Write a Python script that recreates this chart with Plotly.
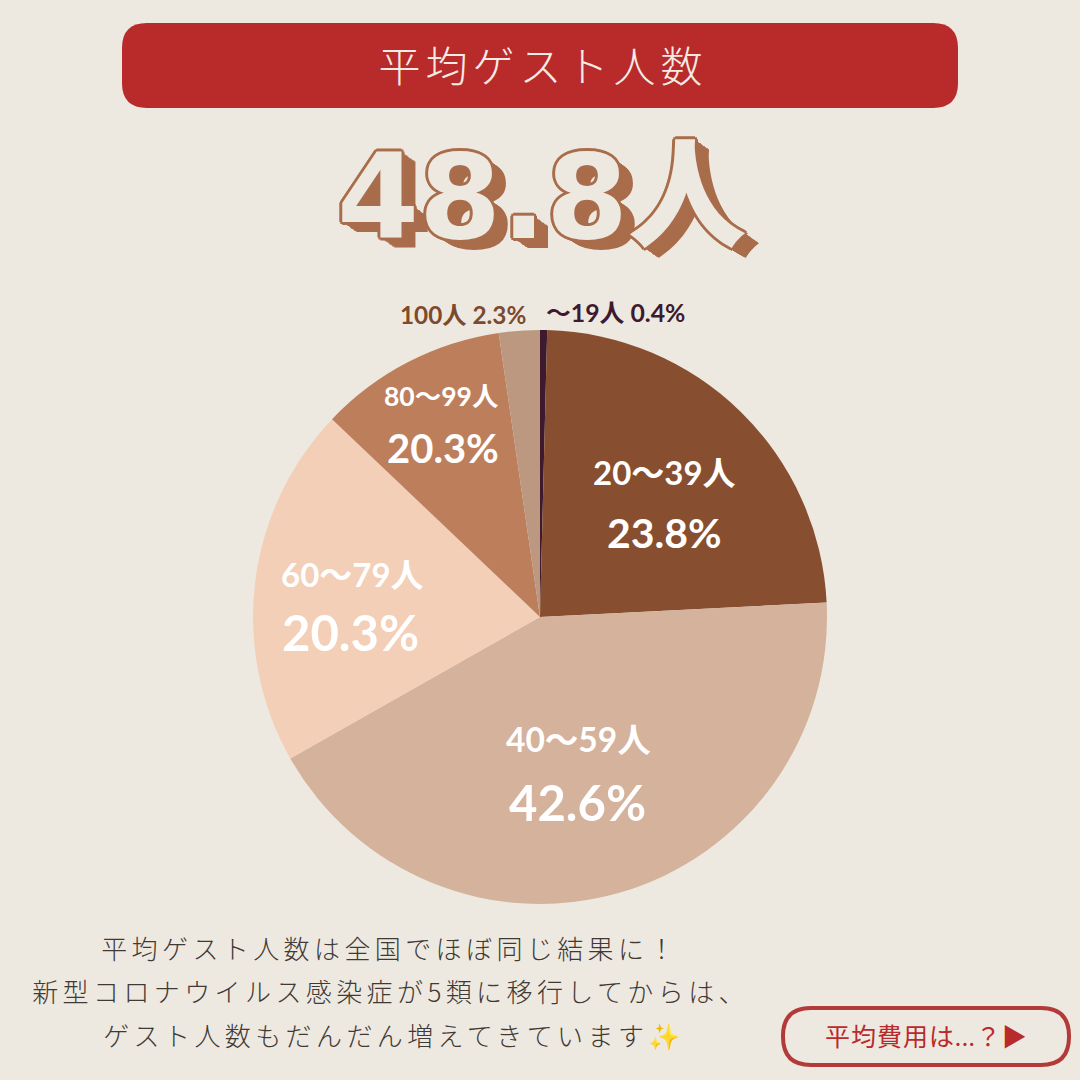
import plotly.graph_objects as go

BG = "#eee9e0"
RED = "#b92a2b"
BROWN = "#a96d4b"

categories = ["～19人", "20～39人", "40～59人", "60～79人", "80～99人", "100人"]
values = [0.4, 23.8, 42.6, 20.3, 10.6, 2.3]
printed_shares = ["0.4%", "23.8%", "42.6%", "20.3%", "20.3%", "2.3%"]
colors = ["#3e1a2f", "#874e2f", "#d4b29b", "#f3cfb8", "#bd7e5c", "#bc9880"]

title_text = "平均ゲスト人数"
hero_text = "48.8人"
body_lines = ["平均ゲスト人数は全国でほぼ同じ結果に！",
              "新型コロナウイルス感染症が5類に移行してからは、",
              "ゲスト人数もだんだん増えてきています✨"]
button_text = "平均費用は...？▶"

W = H = 1080
CJK = "Noto Sans CJK JP"
LABEL_FONT = f"Lato, {CJK}"


def px(x):
    return x / W


def py(y):
    return 1 - y / H


def rrect(x0, y0, x1, y1, r):
    a, b, c, d = px(x0), py(y0), px(x1), py(y1)
    rx, ry = r / W, r / H
    return (f"M{a + rx},{b} L{c - rx},{b} Q{c},{b} {c},{b - ry} L{c},{d + ry} Q{c},{d} {c - rx},{d} "
            f"L{a + rx},{d} Q{a},{d} {a},{d + ry} L{a},{b - ry} Q{a},{b} {a + rx},{b} Z")


annotations = []
spacings = []


def note(text, x, y, size, color, family=CJK, weight=400, spacing=0, shadow=None):
    font = dict(size=size, color=color, family=family, weight=weight)
    if shadow:
        font["shadow"] = shadow
    annotations.append(dict(text=text, x=px(x), y=py(y), xref="paper", yref="paper",
                            xanchor="center", yanchor="middle", showarrow=False, font=font))
    spacings.append(spacing)


note(title_text, 543, 64, 42, "#f4ece4", weight=300, spacing=5)

outline = [f"{dx}px {dy}px 0 {BROWN}" for dx, dy in
           [(-3, 0), (3, 0), (0, -3), (0, 3), (-2, -2), (2, -2), (-2, 2), (2, 2)]]
extrude = [f"{i}px {round(i * 0.72, 1)}px 0 {BROWN}" for i in range(3, 15)]
note(hero_text, 541, 197, 118, BG, family=f"DejaVu Sans, {CJK}", weight=900,
     spacing=0, shadow=", ".join(outline + extrude))

label_pos = {1: ((664, 472), (664, 532)), 2: ((578, 739), (577, 802)),
             3: ((352, 574), (350, 632)), 4: ((441, 396), (443, 448))}
label_sizes = {1: (33, 41), 2: (33.5, 49), 3: (33, 49), 4: (26.5, 40)}
for i, (p1, p2) in label_pos.items():
    note(categories[i], p1[0], p1[1], label_sizes[i][0], "#ffffff", LABEL_FONT, 700)
    note(printed_shares[i], p2[0], p2[1], label_sizes[i][1], "#ffffff", LABEL_FONT, 700)

note(f"{categories[5]} {printed_shares[5]}", 463, 314, 24.3, "#7c4a2d", LABEL_FONT, 700)
note(f"{categories[0]} {printed_shares[0]}", 615, 313, 24.8, colors[0], LABEL_FONT, 700)

for line, x, y in zip(body_lines, [390, 390, 394], [947, 990, 1034]):
    note(line, x, y, 26, "#3f3a36", weight=300, spacing=4.4)

note(button_text, 926, 1036, 25, RED, family=LABEL_FONT, weight=400, spacing=1)

fig = go.Figure(go.Pie(
    labels=categories, values=values, sort=False, direction="clockwise", rotation=0,
    marker=dict(colors=colors, line=dict(width=0)), textinfo="none", showlegend=False,
    domain=dict(x=[px(253), px(827)], y=[py(904), py(330)]),
))
fig.update_layout(
    width=W, height=H, margin=dict(l=0, r=0, t=0, b=0, pad=0),
    paper_bgcolor=BG, plot_bgcolor=BG, showlegend=False,
    annotations=annotations,
    shapes=[
        dict(type="path", xref="paper", yref="paper", path=rrect(122, 23, 958, 108, 25),
             fillcolor=RED, line=dict(width=0), layer="below"),
        dict(type="path", xref="paper", yref="paper", path=rrect(783, 1008, 1069, 1065, 28),
             fillcolor="rgba(0,0,0,0)", line=dict(width=4, color="#b23a38"), layer="below"),
    ],
)

post = ("document.body.style.margin='0';document.documentElement.style.background='%s';"
        "var sp=%s;document.querySelectorAll('.annotation-text').forEach(function(e,i){"
        "if(sp[i]){e.style.letterSpacing=sp[i]+'px';}});" % (BG, spacings))
fig.write_html("out.html", post_script=post, config={"displayModeBar": False})
